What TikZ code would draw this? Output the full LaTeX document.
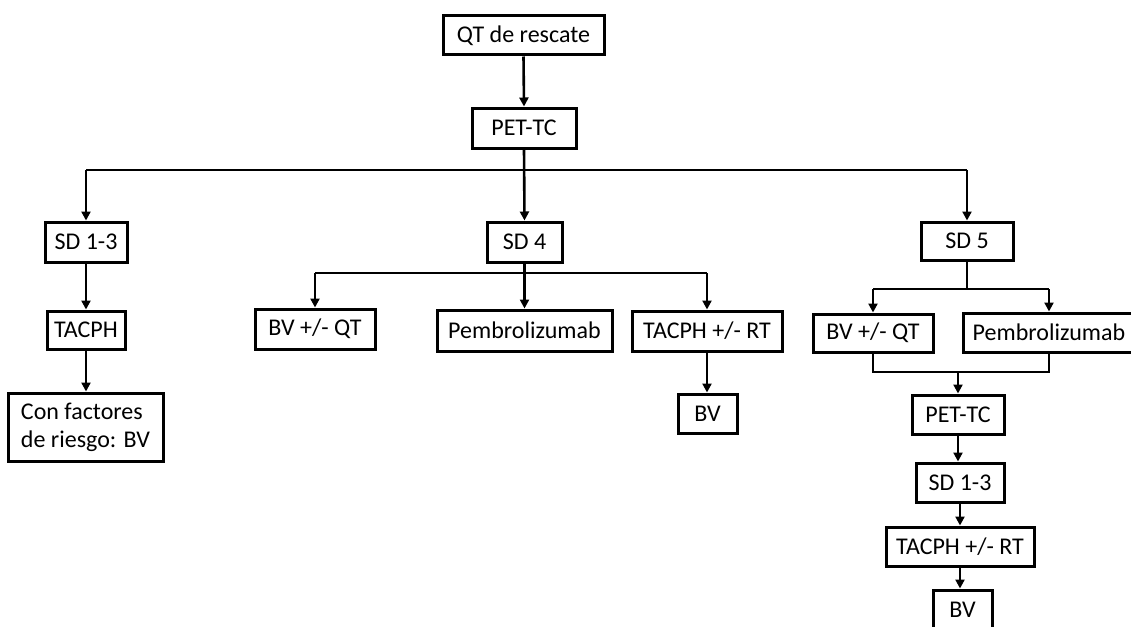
\documentclass[tikz,border=0pt]{standalone}
\usepackage{fontspec}
\setmainfont{Carlito}
\usetikzlibrary{arrows.meta}
\begin{document}
\begin{tikzpicture}[x=1pt,y=-1pt,
  box/.style={draw=black,line width=3pt,fill=white,inner sep=0pt,font=\fontsize{24}{28}\selectfont,align=center},
  arr/.style={line width=2.6pt,-{Triangle[width=9pt,length=9pt]}},
  ln/.style={line width=2.6pt}]
\useasboundingbox (0,0) rectangle (1131,626);
\node[box,minimum width=161pt,minimum height=39pt] (qt) at (523.5,35.5) {QT de rescate};
\node[box,minimum width=104pt,minimum height=40pt] (pet) at (524,128) {PET-TC};
\node[box,minimum width=82pt,minimum height=40pt] (sd13) at (86,242) {SD 1-3};
\node[box,minimum width=78pt,minimum height=38pt] (tacph) at (86,330) {TACPH};
\node[box,minimum width=155pt,minimum height=68pt,align=left] (con) at (85.5,427) {Con factores\\de riesgo: BV};
\node[box,minimum width=75pt,minimum height=40pt] (sd4) at (524.5,242) {SD 4};
\node[box,minimum width=120pt,minimum height=40pt] (bvqt4) at (315,329) {BV +/- QT};
\node[box,minimum width=175pt,minimum height=41pt] (pemb4) at (524.5,330.5) {Pembrolizumab};
\node[box,minimum width=150pt,minimum height=40pt] (tacrt4) at (707,331) {TACPH +/- RT};
\node[box,minimum width=59pt,minimum height=39pt] (bv4) at (707.5,413.5) {BV};
\node[box,minimum width=92pt,minimum height=38pt] (sd5) at (967,241) {SD 5};
\node[box,minimum width=120pt,minimum height=38pt] (bvqt5) at (873,333) {BV +/- QT};
\node[box,minimum width=172pt,minimum height=39pt] (pemb5) at (1049,332.5) {Pembrolizumab};
\node[box,minimum width=92pt,minimum height=39pt] (pet5) at (958,414.5) {PET-TC};
\node[box,minimum width=88pt,minimum height=39pt] (sd135) at (960,482.5) {SD 1-3};
\node[box,minimum width=148pt,minimum height=39pt] (tacrt5) at (960,546.5) {TACPH +/- RT};
\node[box,minimum width=59pt,minimum height=40pt] (bv5) at (962.5,610) {BV};
% coordinates
\coordinate (h1) at (524,170);
\coordinate (h4) at (524,273);
\coordinate (h5) at (967,289);
\coordinate (j5) at (958,372);
% connectors
\draw[arr] (qt.south) -- (pet.north);
\draw[arr] (pet.south) -- (sd4.north);
\draw[ln] (h1 -| sd13.north) -- (h1 -| sd5.north);
\draw[arr] (h1 -| sd13.north) -- (sd13.north);
\draw[arr] (h1 -| sd5.north) -- (sd5.north);
\draw[arr] (sd13.south) -- (tacph.north);
\draw[arr] (tacph.south) -- (con.north -| tacph.south);
\draw[ln] (h4 -| bvqt4.north) -- (h4 -| tacrt4.north);
\draw[arr] (h4 -| bvqt4.north) -- (bvqt4.north);
\draw[arr] (sd4.south) -- (pemb4.north);
\draw[arr] (h4 -| tacrt4.north) -- (tacrt4.north);
\draw[arr] (tacrt4.south) -- (bv4.north -| tacrt4.south);
\draw[ln] (sd5.south) -- (h5);
\draw[ln] (h5 -| bvqt5.north) -- (h5 -| pemb5.north);
\draw[arr] (h5 -| bvqt5.north) -- (bvqt5.north);
\draw[arr] (h5 -| pemb5.north) -- (pemb5.north);
\draw[ln] (bvqt5.south) |- (j5) -| (pemb5.south);
\draw[arr] (j5) -- (pet5.north -| j5);
\draw[arr] (pet5.south) -- (sd135.north -| pet5.south);
\draw[arr] (sd135.south) -- (tacrt5.north -| sd135.south);
\draw[arr] (tacrt5.south) -- (bv5.north -| tacrt5.south);
\end{tikzpicture}
\end{document}
